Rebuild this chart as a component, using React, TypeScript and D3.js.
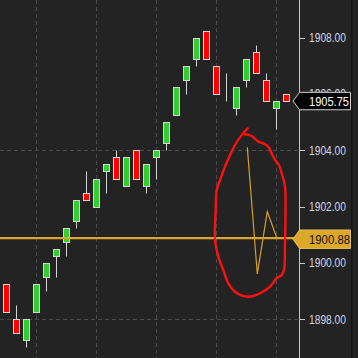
import React from "react";
import * as d3 from "d3";

// Candles (index order, left to right)
const opens = [1899.25, 1898.0, 1897.25, 1898.25, 1899.5, 1900.25, 1900.75, 1901.5, 1902.5, 1902.0, 1903.25, 1903.75, 1902.75, 1904.0, 1902.75, 1903.75, 1904.25, 1905.25, 1906.5, 1907.25, 1908.25, 1907.0, 1905.75, 1905.5, 1906.5, 1907.5, 1906.5, 1905.5, 1906.0];
const highs = [1899.25, 1898.5, 1898.0, 1899.25, 1900.0, 1900.5, 1901.25, 1902.25, 1903.25, 1903.0, 1903.5, 1904.0, 1903.75, 1904.0, 1903.5, 1904.0, 1905.0, 1906.25, 1907.0, 1908.0, 1908.25, 1907.0, 1906.75, 1906.25, 1907.25, 1907.75, 1906.75, 1905.75, 1906.0];
const lows = [1898.25, 1897.5, 1897.0, 1898.25, 1899.0, 1899.5, 1900.25, 1901.25, 1902.25, 1902.0, 1902.5, 1903.0, 1902.75, 1903.0, 1902.5, 1903.0, 1904.0, 1905.25, 1906.0, 1907.0, 1907.25, 1906.0, 1905.75, 1905.25, 1906.25, 1906.75, 1905.75, 1904.75, 1905.75];
const closes = [1898.25, 1897.5, 1898.0, 1899.25, 1900.0, 1900.5, 1901.25, 1902.25, 1902.25, 1903.0, 1903.5, 1903.0, 1903.75, 1903.0, 1903.5, 1904.0, 1905.0, 1906.25, 1907.0, 1908.0, 1907.25, 1906.0, 1905.75, 1906.25, 1907.25, 1906.75, 1905.75, 1905.75, 1905.75];

const yTicks = [1898, 1900, 1902, 1904, 1906, 1908];
const hGrid = [1898, 1904];
const vGrid = [3, 9, 15, 21, 27];

const lastPrice = 1905.75;
const levelPrice = 1900.88;

// Hand-drawn annotations in data coordinates [candle index, price]
const zigzag: [number, number][] = [[24.08, 1904.11], [25.08, 1899.61], [26.08, 1901.82], [27.02, 1900.9]];
const ellipse: [number, number][] = [
  [24.12, 1904.78], [23.52, 1904.54], [22.85, 1904.19], [22.35, 1903.83], [21.85, 1903.42],
  [21.35, 1902.94], [21.02, 1902.59], [20.92, 1901.88], [20.85, 1900.82], [21.18, 1900.22],
  [21.68, 1899.75], [22.18, 1899.28], [22.85, 1898.98], [24.18, 1898.8], [25.35, 1898.92],
  [26.35, 1899.16], [27.02, 1899.46], [27.52, 1899.57], [27.75, 1899.75], [27.85, 1900.7],
  [27.9, 1901.88], [27.85, 1902.71], [27.52, 1903.18], [27.25, 1903.48], [26.85, 1903.66],
  [26.52, 1903.89], [26.18, 1904.13], [25.68, 1904.25], [25.18, 1904.31], [24.52, 1904.51],
  [23.75, 1904.58],
];

const W = 358;
const H = 358;
const AXIS_X = 299.5;

export default function App() {
  const x = d3.scaleLinear().domain([0, 28]).range([6.5, 286.5]);
  const y = d3.scaleLinear().domain([1898, 1908]).range([319.3, 37.7]);
  const snap = (v: number) => Math.round(v) + 0.5;

  const line = d3.line<[number, number]>().x((d) => x(d[0])).y((d) => y(d[1]));
  const smooth = d3
    .line<[number, number]>()
    .x((d) => x(d[0]))
    .y((d) => y(d[1]))
    .curve(d3.curveCatmullRom);

  const labelPath = (cy: number, h: number) =>
    `M293,${cy} L299.5,${cy - h} L350.5,${cy - h} L350.5,${cy + h} L299.5,${cy + h} Z`;

  const lastY = y(lastPrice);
  const levelY = y(levelPrice) + 1;
  const font = "'Liberation Sans', Arial, sans-serif";

  return (
    <svg width={W} height={H} style={{ position: "absolute", left: 0, top: 0, background: "#232323" }}>
      <rect x={0} y={0} width={W} height={H} fill="#232323" />
      {/* grid */}
      {vGrid.map((i) => (
        <line key={"v" + i} x1={x(i)} x2={x(i)} y1={0} y2={H} stroke="#4a4a4a" strokeDasharray="4,3" />
      ))}
      {hGrid.map((v) => (
        <line key={"h" + v} x1={0} x2={AXIS_X - 1} y1={snap(y(v))} y2={snap(y(v))} stroke="#4a4a4a" strokeDasharray="4,3" />
      ))}
      {/* candles */}
      {opens.map((o, i) => {
        const c = closes[i];
        const top = snap(y(Math.max(o, c)));
        const bot = snap(y(Math.min(o, c)));
        const fill = c > o ? "#33cc33" : c < o ? "#ff0000" : "none";
        return (
          <g key={i}>
            <line x1={x(i)} x2={x(i)} y1={snap(y(highs[i]))} y2={snap(y(lows[i]))} stroke="#d4d4d4" strokeWidth={1} />
            <rect x={x(i) - 3} y={top} width={6} height={bot - top} fill={fill} stroke="#d4d4d4" strokeWidth={1} />
          </g>
        );
      })}
      {/* level line */}
      <line x1={0} x2={AXIS_X} y1={y(levelPrice)} y2={y(levelPrice)} stroke="#daa52a" strokeWidth={2.2} />
      {/* annotations */}
      <path d={line(zigzag) || ""} fill="none" stroke="#d4a030" strokeWidth={1.2} />
      <path d={smooth(ellipse) || ""} fill="none" stroke="#ff1010" strokeWidth={2.4} strokeLinecap="round" strokeLinejoin="round" />
      {/* axis */}
      <line x1={AXIS_X} x2={AXIS_X} y1={0} y2={H} stroke="#c8c8c8" />
      <rect x={351} y={0} width={1.5} height={H} fill="#141414" />
      {yTicks.map((v) => (
        <g key={"t" + v}>
          <line x1={AXIS_X} x2={305} y1={snap(y(v))} y2={snap(y(v))} stroke="#c8c8c8" />
          <text x={309} y={y(v) + 4.3} fill="#d2d8e6" fontSize={12} fontFamily={font} textLength={37} lengthAdjust="spacingAndGlyphs">
            {v.toFixed(2)}
          </text>
        </g>
      ))}
      {/* price labels */}
      <path d={labelPath(lastY, 8.7)} fill="#000000" stroke="#d0d0d0" strokeWidth={1} />
      <text x={309} y={lastY + 4.6} fill="#ffffff" fontSize={13} fontFamily={font} textLength={40} lengthAdjust="spacingAndGlyphs">
        {lastPrice.toFixed(2)}
      </text>
      <path d={labelPath(levelY, 9.2)} fill="#dba827" stroke="#e8c060" strokeWidth={1} />
      <text x={309} y={levelY + 4.6} fill="#111111" fontSize={13} fontFamily={font} textLength={41} lengthAdjust="spacingAndGlyphs">
        {levelPrice.toFixed(2)}
      </text>
    </svg>
  );
}
